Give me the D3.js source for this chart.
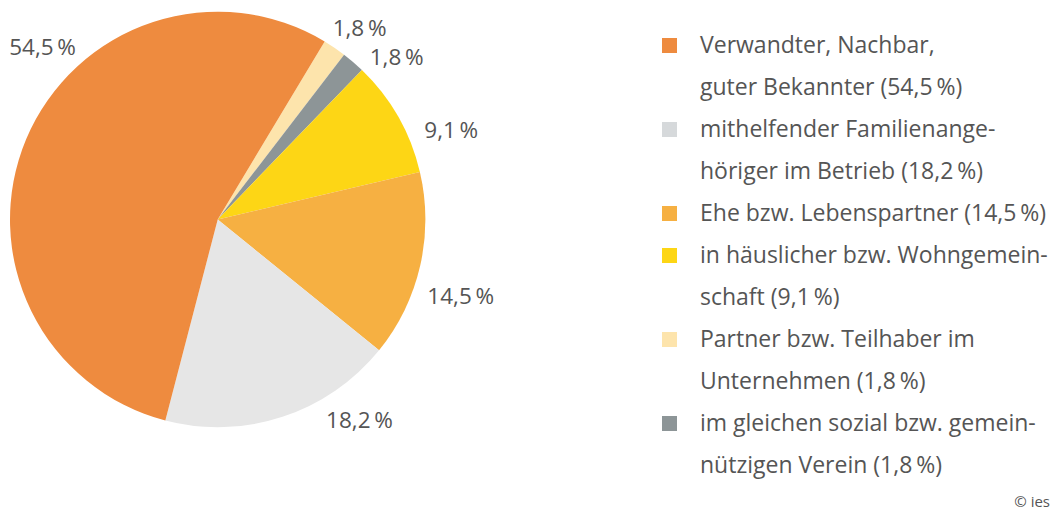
<!DOCTYPE html>
<html>
<head>
<meta charset="utf-8">
<script src="https://cdn.jsdelivr.net/npm/d3@7"></script>
<style>
  body { margin: 0; background: #fff; }
  text { font-family: "Open Sans", "Noto Sans", sans-serif; fill: #555; }
</style>
</head>
<body>
<div id="chart"></div>
<script>
// Svg Dimensions
var svgWidth = 1055;
var svgHeight = 511;

// Data (clockwise order, starting at the top-right)
var categories = ["Partner Teilhaber", "Verein", "Wohngemeinschaft", "Ehepartner", "Familienangehöriger", "Verwandter"];
var values = [1.8, 1.8, 9.1, 14.5, 18.2, 54.5];
var valueLabels = ["1,8\u2009%", "1,8\u2009%", "9,1\u2009%", "14,5\u2009%", "18,2\u2009%", "54,5\u2009%"];
var colors = ["#fde4ac", "#8d9597", "#fdd615", "#f6b042", "#e6e6e6", "#ee8b3f"];

// Label placement (angle in degrees clockwise from top, radius)
var labelAngles = [36.6, 47.7, 69.1, 107.6, 144.8, 314.6];
var labelRadii = [238, 242, 250, 255, 246, 246];

// Legend
var legendLines = [
    ["Verwandter, Nachbar,", "guter Bekannter (54,5\u2009%)"],
    ["mithelfender Familienange-", "höriger im Betrieb (18,2\u2009%)"],
    ["Ehe bzw. Lebenspartner (14,5\u2009%)"],
    ["in häuslicher bzw. Wohngemein-", "schaft (9,1\u2009%)"],
    ["Partner bzw. Teilhaber im", "Unternehmen (1,8\u2009%)"],
    ["im gleichen sozial bzw. gemein-", "nützigen Verein (1,8\u2009%)"]
];
var legendColors = ["#ee8b3f", "#d6d9db", "#f6b042", "#fdd615", "#fde4ac", "#8d9597"];

var cx = 217.7, cy = 219.5, radius = 207.7;

var svg = d3.select("#chart").append("svg")
    .attr("width", svgWidth)
    .attr("height", svgHeight);

var pieGroup = svg.append("g")
    .attr("transform", `translate(${cx}, ${cy})`);

var startAngle = 31 * Math.PI / 180;
var pie = d3.pie()
    .sort(null)
    .value(d => d)
    .startAngle(startAngle)
    .endAngle(startAngle + 2 * Math.PI);

var arc = d3.arc().innerRadius(0).outerRadius(radius);

pieGroup.selectAll("path")
    .data(pie(values))
    .enter()
    .append("path")
    .attr("d", arc)
    .attr("fill", (d, i) => colors[i]);

// Value labels
pieGroup.selectAll(".valLabel")
    .data(valueLabels)
    .enter()
    .append("text")
    .classed("valLabel", true)
    .attr("x", (d, i) => labelRadii[i] * Math.sin(labelAngles[i] * Math.PI / 180))
    .attr("y", (d, i) => -labelRadii[i] * Math.cos(labelAngles[i] * Math.PI / 180))
    .attr("dy", "0.35em")
    .attr("text-anchor", "middle")
    .attr("font-size", "22.5px")
    .text(d => d);

// Legend
var legendX = 662, textX = 700, firstBase = 53, lineStep = 42;
var legend = svg.append("g");
var row = 0;
legendLines.forEach(function(lines, i) {
    var base = firstBase + row * lineStep;
    legend.append("rect")
        .attr("x", legendX)
        .attr("y", base - 15)
        .attr("width", 15)
        .attr("height", 15)
        .attr("fill", legendColors[i]);
    lines.forEach(function(line, j) {
        legend.append("text")
            .attr("x", textX)
            .attr("y", base + j * lineStep)
            .attr("font-size", "23px")
            .text(line);
    });
    row += lines.length;
});

// Copyright
svg.append("text")
    .attr("x", 1050)
    .attr("y", 507)
    .attr("text-anchor", "end")
    .attr("font-size", "15px")
    .text("© ies");
</script>
</body>
</html>
